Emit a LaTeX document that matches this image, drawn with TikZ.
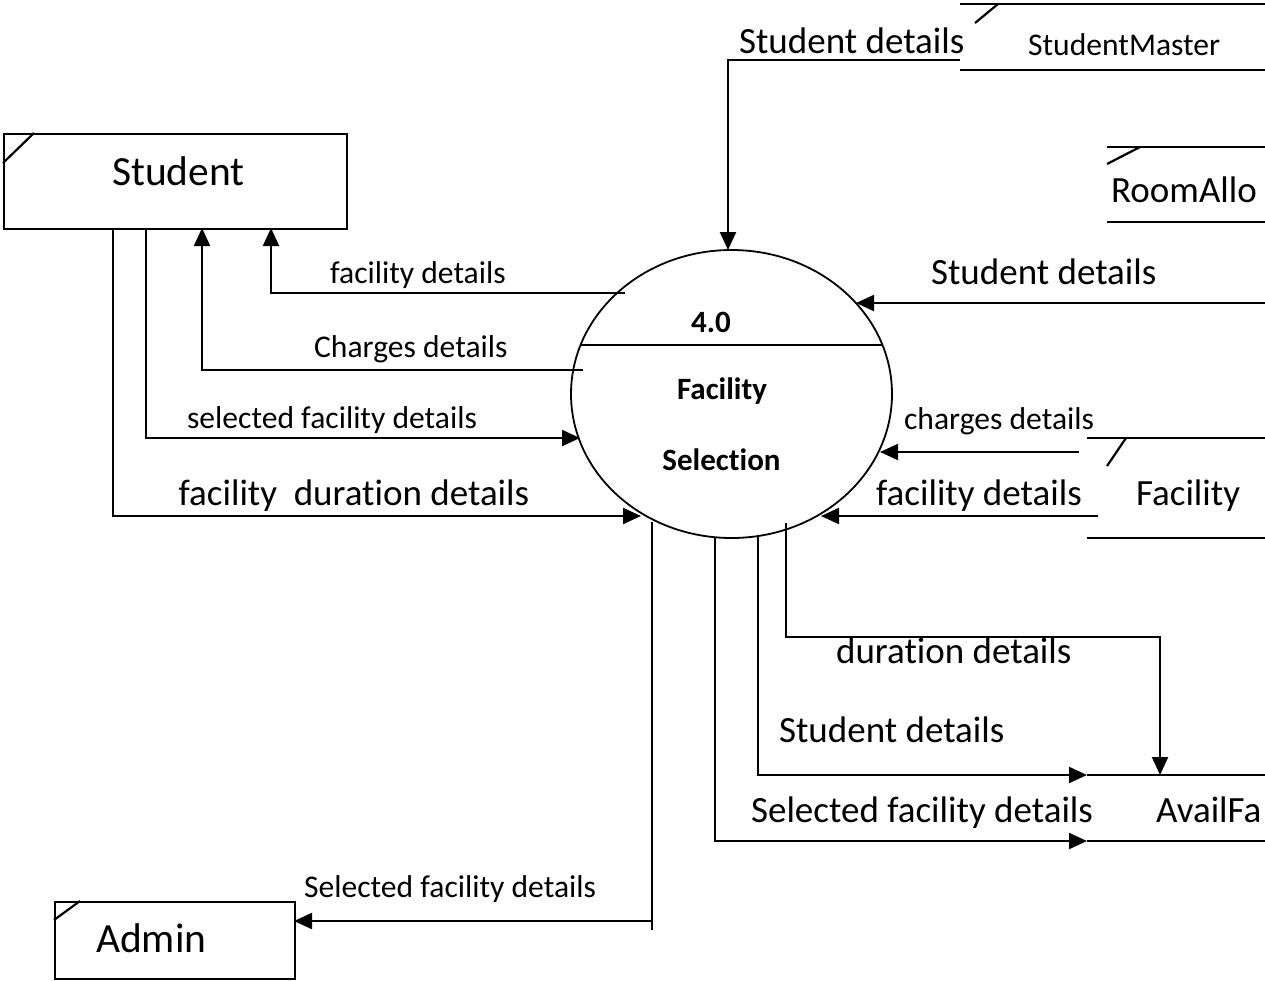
\documentclass[tikz,border=0pt]{standalone}
\usepackage{fontspec}
\setmainfont{Carlito}[Ligatures=NoCommon]
\usetikzlibrary{arrows.meta,shapes.geometric}
\begin{document}
\begin{tikzpicture}[x=1pt,y=-1pt,
  line width=2.2pt,
  arr/.style={-{Triangle[length=18pt,width=16pt]}, line width=2.2pt},
  bigtxt/.style={font=\fontsize{37}{40}\selectfont, anchor=base west, inner sep=0},
  smalltxt/.style={font=\fontsize{31.6}{35}\selectfont, anchor=base west, inner sep=0},
  hugetxt/.style={font=\fontsize{41.5}{45}\selectfont, anchor=base west, inner sep=0},
  boldtxt/.style={font=\fontsize{31}{34}\selectfont\bfseries, anchor=base, inner sep=0},
  entity/.style={draw, line width=2.2pt, inner sep=0, anchor=north west},
  storeline/.style={line width=2.2pt},
]
\useasboundingbox (0,0) rectangle (1265,980);

% ---------- external entities ----------
\node[entity, minimum width=343pt, minimum height=95pt] (student) at (3,133) {};
\draw (student.north west) ++(0,30) -- ++(31,-30);
\node[hugetxt] (studentlbl) at (111,185) {Student};

\node[entity, minimum width=240pt, minimum height=77pt] (admin) at (54,901) {};
\draw (admin.north west) ++(0,19) -- ++(26,-19);
\node[hugetxt] (adminlbl) at (95,952) {Admin};

% ---------- process ----------
\node[draw, ellipse, line width=1.8pt, minimum width=321pt, minimum height=288pt, inner sep=0] (p) at (731.5,394) {};
\coordinate (pdivL) at (580,345);
\coordinate (pdivR) at (883,345);
\draw[line width=1.8pt] (pdivL) -- (pdivR);
\node[boldtxt] (pnum) at (711,332) {4.0};
\node[boldtxt] (pname1) at (722,399) {Facility};
\node[boldtxt] (pname2) at (721.5,470) {Selection};

% ---------- data stores ----------
% StudentMaster
\coordinate (smTL) at (960,4);  \coordinate (smTR) at (1265,4);
\coordinate (smBL) at (960,70); \coordinate (smBR) at (1265,70);
\draw[storeline] (smTL) -- (smTR);
\draw[storeline] (smBL) -- (smBR);
\draw (975,23) -- (998,4);
\node[smalltxt] (smlbl) at (1027,55) {StudentMaster};

% RoomAllo
\coordinate (raTL) at (1107,147); \coordinate (raTR) at (1265,147);
\coordinate (raBL) at (1107,222); \coordinate (raBR) at (1265,222);
\draw[storeline] (raTL) -- (raTR);
\draw[storeline] (raBL) -- (raBR);
\draw (1107,164) -- (1140,147);
\begin{scope}
\clip (0,0) rectangle (1265,980);
\node[bigtxt] (ralbl) at (1110,202) {RoomAllo};
\end{scope}

% Facility
\coordinate (faTL) at (1087,438); \coordinate (faTR) at (1265,438);
\coordinate (faBL) at (1087,538); \coordinate (faBR) at (1265,538);
\draw[storeline] (faTL) -- (faTR);
\draw[storeline] (faBL) -- (faBR);
\draw (1107,466) -- (1126,438);
\node[bigtxt] (falbl) at (1135,505) {Facility};

% AvailFa
\coordinate (avTL) at (1087,775); \coordinate (avTR) at (1265,775);
\coordinate (avBL) at (1087,841); \coordinate (avBR) at (1265,841);
\draw[storeline] (avTL) -- (avTR);
\draw[storeline] (avBL) -- (avBR);
\begin{scope}
\clip (0,0) rectangle (1265,980);
\node[bigtxt] (avlbl) at (1155,822) {AvailFa};
\end{scope}

% ---------- connector end points ----------
\coordinate (smOut) at (960,60);
\coordinate (pTop) at (728,250);
\coordinate (raOut) at (1265,303);
\coordinate (pR1) at (856,303);
\coordinate (faOut1) at (1079,452);
\coordinate (pR2) at (880,452);
\coordinate (faOut2) at (1098,516);
\coordinate (pR3) at (821,516);
\coordinate (pL1) at (625,293);
\coordinate (stIn1) at (271,228);
\coordinate (pL2) at (583,370);
\coordinate (stIn2) at (202,228);
\coordinate (stOut1) at (146,228);
\coordinate (pL3) at (580,438);
\coordinate (stOut2) at (113,228);
\coordinate (pL4) at (641,516);
\coordinate (pB1) at (652,522);
\coordinate (pB1end) at (652,930);
\coordinate (adIn) at (294,921);
\coordinate (pB2) at (715,537);
\coordinate (pB3) at (758,536);
\coordinate (pB4) at (786,523);
\coordinate (avIn) at (1160,775);

% ---------- connectors ----------
\draw[arr] (smOut) -- (pTop |- smOut) -- (pTop);
\node[bigtxt] at (738,53) {Student details};

\draw[arr] (raOut) -- (pR1);
\node[bigtxt] at (930,284) {Student details};

\draw[arr] (faOut1) -- (pR2);
\node[smalltxt] at (903,429) {charges details};

\draw[arr] (faOut2) -- (pR3);
\node[bigtxt] at (875,505) {facility details};

\draw[arr] (pL1) -- (stIn1 |- pL1) -- (stIn1);
\node[smalltxt] at (329,283) {facility details};

\draw[arr] (pL2) -- (stIn2 |- pL2) -- (stIn2);
\node[smalltxt] at (313,357) {Charges details};

\draw[arr] (stOut1) -- (stOut1 |- pL3) -- (pL3);
\node[smalltxt] at (186,428) {selected facility details};

\draw[arr] (stOut2) -- (stOut2 |- pL4) -- (pL4);
\node[bigtxt] at (177.5,505) {facility\ \ duration details};

\draw (pB1) -- (pB1end);
\draw[arr] (pB1 |- adIn) -- (adIn);
\node[smalltxt] at (303,897) {Selected facility details};

\draw[arr] (pB2) -- (pB2 |- avBL) -- (avBL);
\node[bigtxt] at (750,822) {Selected facility details};

\draw[arr] (pB3) -- (pB3 |- avTL) -- (avTL);
\node[bigtxt] at (778,742) {Student details};

\draw[arr] (pB4) -- (786,637) -- (avIn |- 0,637) -- (avIn);
\node[bigtxt] at (835,663) {duration details};

\end{tikzpicture}
\end{document}
